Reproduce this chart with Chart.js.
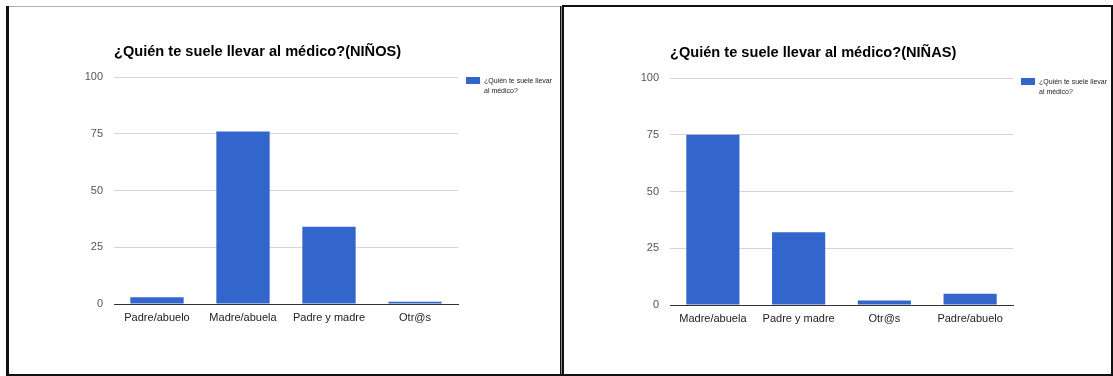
<!DOCTYPE html>
<html>
<head>
<meta charset="utf-8">
<script src="https://cdn.jsdelivr.net/npm/chart.js@4/dist/chart.umd.min.js"></script>
<style>
  html, body { margin: 0; padding: 0; background: #fff; }
  body { width: 1113px; height: 376px; position: relative; overflow: hidden; }
  .line { position: absolute; }
  canvas { position: absolute; }
</style>
</head>
<body>
<!-- panel frames -->
<div class="line" style="left:6px;top:6px;width:3px;height:370px;background:#111;"></div>
<div class="line" style="left:9px;top:6px;width:552px;height:1px;background:#b0b0b0;"></div>
<div class="line" style="left:560px;top:6px;width:1px;height:370px;background:#111;"></div>
<div class="line" style="left:561px;top:6px;width:1px;height:370px;background:#888;"></div>
<div class="line" style="left:562px;top:5px;width:2px;height:371px;background:#111;"></div>
<div class="line" style="left:564px;top:5px;width:549px;height:2px;background:#111;"></div>
<div class="line" style="left:1111px;top:5px;width:2px;height:371px;background:#111;"></div>
<div class="line" style="left:6px;top:374px;width:1107px;height:2px;background:#111;"></div>

<canvas id="ninos" width="551" height="367" style="left:9px;top:7px;"></canvas>
<canvas id="ninas" width="547" height="366" style="left:564px;top:8px;"></canvas>

<script>
// Survey answers: who usually takes the child to the doctor
const seriesLabel = '¿Quién te suele llevar al médico?';

const titleNinos = '¿Quién te suele llevar al médico?(NIÑOS)';
const categoriesNinos = ['Padre/abuelo', 'Madre/abuela', 'Padre y madre', 'Otr@s'];
const valuesNinos = [3, 76, 34, 1];

const titleNinas = '¿Quién te suele llevar al médico?(NIÑAS)';
const categoriesNinas = ['Madre/abuela', 'Padre y madre', 'Otr@s', 'Padre/abuelo'];
const valuesNinas = [75, 32, 2, 5];

const yTicks = [0, 25, 50, 75, 100];

const BAR_COLOR = '#3366cc';
const FONT = '"Liberation Sans", Arial, sans-serif';

// Legend drawn to the right of the plot, wrapping the series name over two lines
const sideLegend = {
  id: 'sideLegend',
  afterDraw(chart) {
    const { ctx, chartArea } = chart;
    const ds = chart.data.datasets[0];
    const x = chartArea.right + 8;
    const y = chartArea.top;
    ctx.save();
    ctx.fillStyle = ds.backgroundColor;
    ctx.fillRect(x, y, 14, 7);
    ctx.font = '7px ' + FONT;
    ctx.fillStyle = '#222';
    ctx.textBaseline = 'middle';
    const words = ds.label.split(' ');
    const lines = [];
    let cur = '';
    for (const w of words) {
      const test = cur ? cur + ' ' + w : w;
      if (cur && ctx.measureText(test).width > 72) {
        lines.push(cur);
        cur = w;
      } else {
        cur = test;
      }
    }
    if (cur) lines.push(cur);
    lines.forEach((ln, i) => ctx.fillText(ln, x + 18, y + 4 + i * 10));
    ctx.restore();
  }
};

function makeChart(id, title, categories, values, axisWidth, axisHeight, rightPad) {
  return new Chart(document.getElementById(id), {
    type: 'bar',
    data: {
      labels: categories,
      datasets: [{
        label: seriesLabel,
        data: values,
        backgroundColor: BAR_COLOR,
        borderWidth: 0,
        categoryPercentage: 1,
        barPercentage: 0.62
      }]
    },
    options: {
      responsive: false,
      animation: false,
      devicePixelRatio: 1,
      layout: { padding: { top: 0, left: 0, bottom: 0, right: rightPad } },
      plugins: {
        legend: { display: false },
        tooltip: { enabled: false },
        title: {
          display: true,
          text: title,
          align: 'start',
          fullSize: false,
          color: '#000',
          font: { family: FONT, size: 14.6, weight: 'bold', lineHeight: 1.2 },
          padding: { top: 36, bottom: 16.5 }
        }
      },
      scales: {
        x: {
          grid: { display: false, drawTicks: false },
          border: { display: true, color: '#333', width: 1 },
          ticks: { color: '#222', padding: 7, font: { family: FONT, size: 11 }, maxRotation: 0 },
          afterFit: s => { s.height = axisHeight; }
        },
        y: {
          min: 0,
          max: 100,
          grid: {
            drawTicks: false,
            color: c => (c.tick && c.tick.value === 0 ? '#333' : '#d4d4d4'),
            lineWidth: 1
          },
          border: { display: false },
          ticks: { color: '#555', padding: 11, font: { family: FONT, size: 11 } },
          afterBuildTicks: s => { s.ticks = yTicks.map(v => ({ value: v })); },
          afterFit: s => { s.width = axisWidth; }
        }
      }
    },
    plugins: [sideLegend]
  });
}

makeChart('ninos', titleNinos, categoriesNinos, valuesNinos, 105, 70, 102);
makeChart('ninas', titleNinas, categoriesNinas, valuesNinas, 106, 69, 98);
</script>
</body>
</html>
